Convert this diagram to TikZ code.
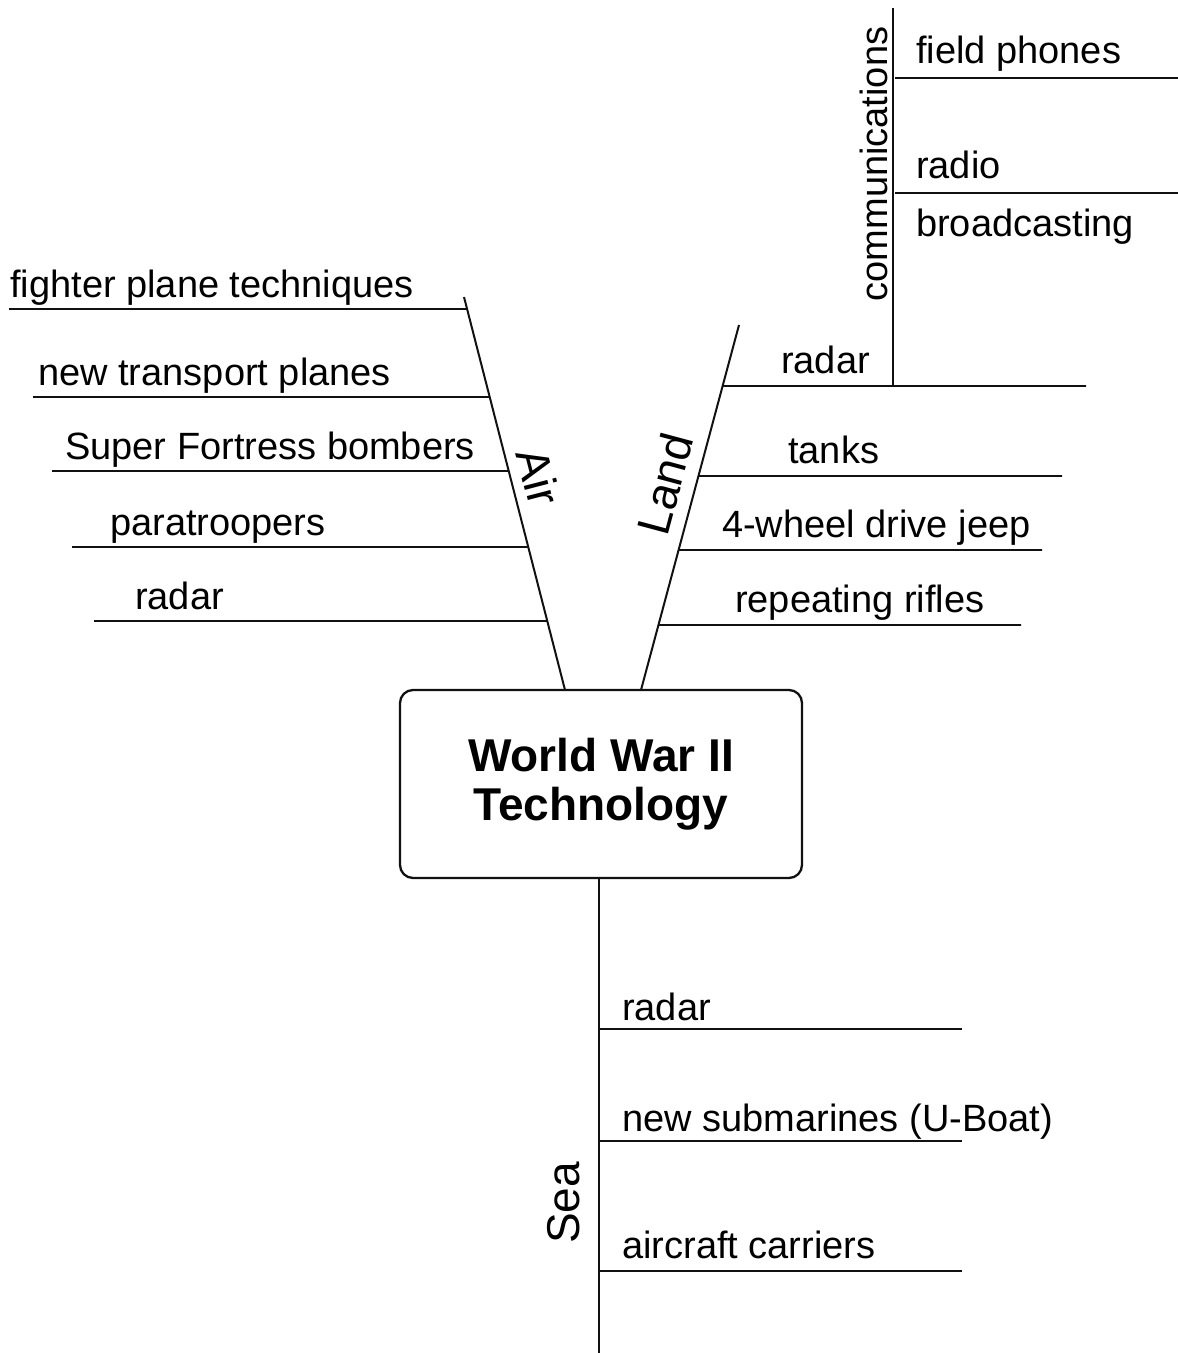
\documentclass[tikz,border=0pt]{standalone}
\usepackage{fontspec}
\setmainfont{Liberation Sans}
\usetikzlibrary{
  positioning,
  calc
}
\definecolor{ink}{HTML}{111111}
\tikzset{
  hub/.style    = {rectangle, rounded corners=13pt, draw=ink, line width=2.3pt,
                   minimum width=402pt, minimum height=188pt, inner sep=0pt,
                   align=center, font=\fontsize{46}{49}\selectfont\bfseries},
  spine/.style  = {draw=ink, line width=2pt},
  branch/.style = {draw=ink, line width=1.8pt},
  item/.style   = {anchor=base west, inner sep=0pt,
                   font=\fontsize{38}{44}\selectfont},
  topic/.style  = {inner sep=0pt, font=\fontsize{46}{50}\selectfont},
  subtopic/.style = {inner sep=0pt, font=\fontsize{38}{44}\selectfont}
}
\begin{document}
\begin{tikzpicture}[x=1pt, y=-1pt]
\useasboundingbox (0,0) rectangle (1178,1353);
% Centre box
\node[hub] (wwii) at (601,784) {World War II\\Technology};
% Air spine with branches to the left
\coordinate (airTop) at (464,297);
\coordinate (airBot) at (565,690);
\draw[spine] (airTop) -- (airBot);
\node[topic, rotate=-75.5] (air) at (539,477) {Air};
\foreach \i/\xa/\y/\tx/\txt in {
    1/9/309/10/fighter plane techniques,
    2/33/397/38/new transport planes,
    3/52/471/65/Super Fortress bombers,
    4/72/547/110/paratroopers,
    5/94/621/135/radar}{
  \pgfmathsetmacro{\pp}{(\y-297)/393}
  \coordinate (airEnd\i) at (\xa,\y);
  \draw[branch] (airEnd\i) -- ($(airTop)!\pp!(airBot)$);
  \node[item] (airItem\i) at (\tx,\y-12) {\txt};
}
% Land spine with branches to the right
\coordinate (landTop) at (739,325);
\coordinate (landBot) at (641,690);
\draw[spine] (landTop) -- (landBot);
\node[topic, rotate=75] (land) at (665,484) {Land};
\foreach \i/\xb/\y/\tx/\txt in {
    1/1086/386/781/radar,
    2/1062/476/788/tanks,
    3/1042/550/722/4-wheel drive jeep,
    4/1021/625/735/repeating rifles}{
  \pgfmathsetmacro{\pp}{(\y-325)/365}
  \coordinate (landEnd\i) at (\xb,\y);
  \draw[branch] ($(landTop)!\pp!(landBot)$) -- (landEnd\i);
  \node[item] (landItem\i) at (\tx,\y-13) {\txt};
}
% Communications sub-branch standing on the land radar line
\coordinate (commTop) at (893,8);
\coordinate (commBot) at (893,386);
\draw[spine] (commTop) -- (commBot);
\node[subtopic, rotate=90] (comm) at (874,164) {communications};
\foreach \i/\y in {1/78, 2/193}{
  \coordinate (commA\i) at (895,\y);
  \coordinate (commB\i) at (1178,\y);
  \draw[branch] (commA\i) -- (commB\i);
}
\node[item] (commItem1) at (916,63) {field phones};
\node[item] (commItem2) at (916,178) {radio};
\node[item] (commItem3) at (916,236) {broadcasting};
% Sea spine going down
\coordinate (seaTop) at (599,878);
\coordinate (seaBot) at (599,1353);
\draw[spine] (seaTop) -- (seaBot);
\node[topic, rotate=90] (sea) at (564,1203) {Sea};
\foreach \i/\y/\b/\txt in {
    1/1029/1020/radar,
    2/1141/1131/new submarines (U-Boat),
    3/1271/1258/aircraft carriers}{
  \coordinate (seaA\i) at (599,\y);
  \coordinate (seaB\i) at (962,\y);
  \draw[branch] (seaA\i) -- (seaB\i);
  \node[item] (seaItem\i) at (622,\b) {\txt};
}
\end{tikzpicture}
\end{document}
